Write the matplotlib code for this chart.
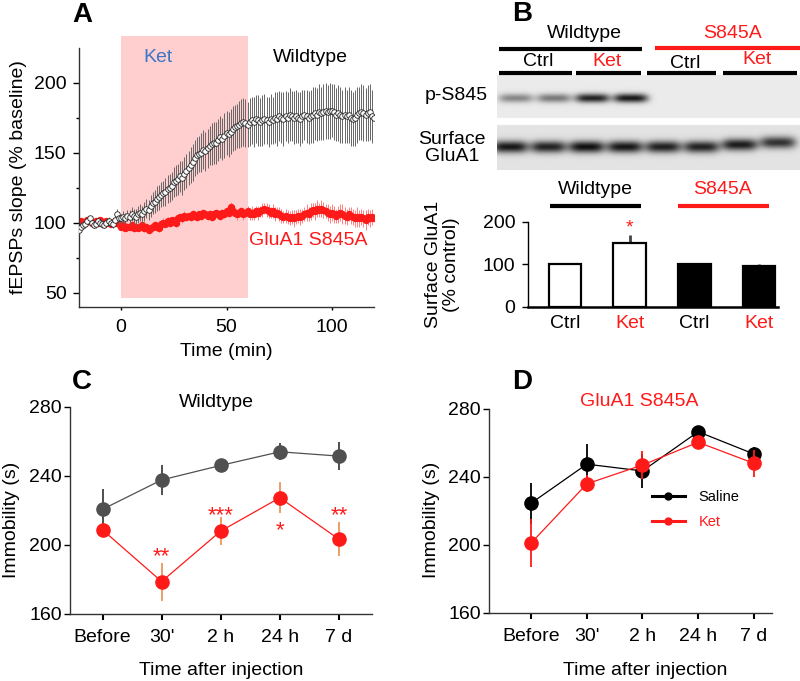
import numpy as np
import matplotlib
matplotlib.use("Agg")
import matplotlib.pyplot as plt
from matplotlib.patches import Rectangle
from matplotlib.lines import Line2D

plt.rcParams['font.family'] = ['Liberation Sans', 'DejaVu Sans']

# ---------------- DATA ----------------
# Panel A: fEPSP slope (% baseline), 1-min samples, -20..120 min
time_min = np.arange(-20, 121)
wt_slope = [95, 97, 98, 99, 101, 103, 100, 98, 99, 101, 100, 99, 98, 100, 101, 100, 99, 102, 106, 103,
            103, 104, 103, 105, 104, 106, 105, 104, 106, 107,
            106, 108, 110, 109, 112, 114, 115, 117, 118, 120,
            121, 122, 124, 125, 126, 129, 130, 131, 133, 132,
            135, 137, 139, 141, 143, 146, 148, 149, 150, 152,
            151, 153, 155, 156, 157, 157, 159, 161, 160, 162,
            164, 163, 165, 167, 168, 169, 170, 171, 172, 171,
            170, 172, 173, 172, 174, 173, 172, 173, 174, 173,
            172, 174, 173, 175, 174, 176, 175, 174, 176, 175,
            177, 176, 175, 176, 175, 174, 176, 177, 176, 175,
            176, 177, 178, 177, 179, 178, 179, 180, 179, 180,
            180, 179, 177, 178, 177, 176, 177, 176, 177, 175,
            174, 175, 177, 178, 179, 178, 177, 178, 179, 176, 175]
wt_err = [3, 3, 2, 3, 3, 2, 3, 2, 3, 3, 2, 3, 2, 3, 3, 2, 3, 3, 4, 3,
          3, 4, 4, 4, 5, 5, 5, 6, 6, 6,
          6, 7, 7, 7, 8, 8, 8, 9, 9, 9,
          9, 10, 10, 10, 10, 11, 11, 11, 11, 12,
          12, 12, 12, 13, 13, 13, 13, 13, 14, 14,
          14, 14, 14, 15, 15, 15, 15, 15, 15, 16,
          16, 16, 16, 16, 16, 16, 17, 17, 17, 17,
          16, 17, 17, 18, 17, 18, 17, 18, 18, 17,
          18, 18, 17, 18, 19, 18, 18, 19, 18, 18,
          19, 18, 19, 19, 18, 19, 19, 18, 19, 19,
          19, 20, 19, 19, 20, 19, 20, 20, 19, 20,
          19, 20, 19, 20, 20, 19, 20, 19, 20, 20,
          19, 20, 20, 19, 20, 20, 19, 20, 20, 19, 20]
mut_slope = [100, 101, 99, 100, 102, 101, 100, 99, 101, 100, 102, 100, 99, 101, 100, 99, 100, 101, 100, 99,
             97, 98, 96, 97, 97, 98, 96, 97, 96, 97,
             98, 96, 97, 95, 96, 97, 98, 97, 96, 99,
             100, 99, 101, 100, 102, 101, 100, 103, 104, 103,
             105, 104, 105, 104, 106, 105, 104, 106, 105, 107,
             106, 105, 106, 104, 106, 107, 106, 105, 107, 106,
             108, 107, 111, 108, 107, 106, 107, 108, 106, 107,
             108, 106, 107, 106, 108, 107, 108, 109, 110, 109,
             108, 107, 108, 106, 107, 106, 105, 104, 105, 104,
             103, 104, 103, 104, 105, 104, 105, 106, 107, 106,
             108, 109, 108, 110, 109, 110, 109, 108, 107, 106,
             107, 106, 105, 106, 107, 106, 105, 104, 106, 105,
             104, 103, 104, 103, 104, 103, 102, 104, 103, 104, 103]
mut_err = [2] * 20 + [2, 2, 2, 3, 2, 2, 3, 2, 2, 3,
                      2, 3, 2, 2, 3, 2, 3, 2, 3, 3,
                      3, 2, 3, 3, 2, 3, 3, 3, 2, 3,
                      3, 3, 2, 3, 3, 3, 3, 2, 3, 3,
                      3, 3, 3, 3, 3, 3, 3, 3, 3, 3,
                      3, 3, 4, 3, 3, 4, 3, 3, 4, 3,
                      4, 4, 5, 4, 4, 5, 4, 5, 4, 5,
                      5, 4, 5, 5, 4, 5, 5, 4, 5, 5,
                      5, 5, 6, 5, 5, 6, 5, 5, 6, 5,
                      6, 5, 6, 6, 5, 6, 6, 5, 6, 6,
                      6, 6, 5, 6, 6, 7, 6, 6, 5, 6,
                      6, 6, 7, 6, 6, 6, 7, 6, 6, 6, 7]

# Panel B: western blot band intensities (0..1 darkness) per lane
lanes = ["Ctrl", "Ctrl", "Ket", "Ket", "Ctrl", "Ctrl", "Ket", "Ket"]
ps845_band = [0.42, 0.48, 0.85, 0.9, 0.0, 0.0, 0.0, 0.0]
surface_band = [0.9, 0.85, 0.93, 0.9, 0.86, 0.85, 0.88, 0.78]

# Panel B: surface GluA1 quantification
bar_labels = ["Ctrl", "Ket", "Ctrl", "Ket"]
bar_values = [100, 149, 100, 96.5]
bar_errors = [1, 20, 3, 3]

# Panels C & D: immobility
time_labels = ["Before", "30'", "2 h", "24 h", "7 d"]
wt_saline = [220.6, 237.6, 246, 253.9, 251.4]
wt_saline_err = [12, 8.5, 4, 5, 8]
wt_ket = [208.7, 178.8, 208, 227.3, 203.3]
wt_ket_err = [2, 11, 8, 9, 10]
wt_stars = ["", "**", "***", "*", "**"]
wt_star_y = [0, 197, 221, 212, 221]
mut_saline = [224.5, 247.5, 243.5, 266.6, 253.5]
mut_saline_err = [12, 12, 10, 3, 4]
mut_ket = [201, 235.9, 247, 260.4, 248]
mut_ket_err = [14, 5, 8, 3, 8]

# ---------------- FIGURE ----------------
W, H = 800, 681
fig = plt.figure(figsize=(W / 100, H / 100), dpi=100)


def px_axes(l, t, r, b, **kw):
    return fig.add_axes([l / W, 1 - b / H, (r - l) / W, (b - t) / H], **kw)


RED = '#ff1a1a'
FS = 14

# ---- Panel A ----
axA = px_axes(79, 47.7, 374, 306.7)
axA.add_patch(Rectangle((0, 46), 60, 187, facecolor='#ffcfcf', edgecolor='none',
                        clip_on=False, zorder=0))
axA.errorbar(time_min, mut_slope, yerr=mut_err, fmt='o', ms=4.3, color=RED,
             mec=RED, ecolor='#ff8080', elinewidth=0.7, capsize=0, zorder=2)
axA.errorbar(time_min, wt_slope, yerr=wt_err, fmt='o', ms=4.0, mfc='white',
             mec='#222222', mew=0.6, ecolor='#666666', elinewidth=0.7, capsize=0, zorder=3)
axA.set_xlim(-20, 120)
axA.set_ylim(40, 225)
axA.set_xticks([0, 50, 100])
axA.set_yticks([50, 100, 150, 200])
axA.set_yticks([75, 125, 175], minor=True)
axA.tick_params(axis='y', which='major', length=4, width=1, pad=5, labelsize=FS)
axA.tick_params(axis='y', which='minor', length=2.5, width=1)
axA.tick_params(axis='x', length=2.5, width=1, pad=6, labelsize=FS)
for s in ['top', 'right']:
    axA.spines[s].set_visible(False)
for s in ['left', 'bottom']:
    axA.spines[s].set_linewidth(1.0)
    axA.spines[s].set_color('#333333')
axA.set_ylabel("fEPSPs slope (% baseline)", fontsize=FS)
axA.yaxis.set_label_coords(-0.175, 0.5)
axA.set_xlabel("Time (min)", fontsize=FS)
axA.xaxis.set_label_coords(0.498, -0.14)
axA.text(17.7, 218, "Ket", color='#3b76c8', fontsize=FS, ha='center', va='center')
axA.text(89.7, 218, "Wildtype", color='black', fontsize=FS, ha='center', va='center')
axA.text(88.8, 87, "GluA1 S845A", color=RED, fontsize=FS, ha='center', va='center')

# ---- Panel B blot ----
axBlot = px_axes(497, 75, 800, 170)
xs = np.linspace(-0.34, 7.57, 606)
ys = np.linspace(75, 170, 190)
X, Y = np.meshgrid(xs, ys)
img = np.ones_like(X)
img[(Y >= 75) & (Y <= 118)] = 0.92
img[(Y >= 125) & (Y <= 170)] = 0.89
dark = np.zeros_like(X)
for i, a in enumerate(ps845_band):
    dark += a * np.exp(-((X - (i + 0.15)) / 0.45) ** 4) * np.exp(-((Y - 98) / 4.5) ** 2)
for i, a in enumerate(surface_band):
    yc = 147 - 2.2 * max(0, i - 5)
    dark += a * np.exp(-((X - i) / 0.47) ** 4) * np.exp(-((Y - yc) / 6.0) ** 2)
img = img * (1 - np.clip(dark, 0, 0.95))
axBlot.imshow(img, cmap='gray', vmin=0, vmax=1, extent=(-0.34, 7.57, 170, 75),
              aspect='auto', interpolation='bilinear')
axBlot.set_axis_off()

# ---- Panel B bars ----
axB = px_axes(528, 221.7, 778, 306.7)
xb = np.arange(len(bar_values))
faces = ['white', 'white', 'black', 'black']
axB.bar(xb, bar_values, width=0.5, color=faces, edgecolor='black', linewidth=1.6, zorder=2)
axB.errorbar(xb, bar_values, yerr=[[0] * 4, bar_errors], fmt='none', ecolor='#444444',
             elinewidth=2, capsize=0, zorder=1)
axB.text(1, 185, "*", color=RED, fontsize=14, ha='center', va='center')
axB.set_xlim(-0.57, 3.29)
axB.set_ylim(0, 200)
axB.set_yticks([0, 100, 200])
axB.set_xticks(xb)
axB.set_xticklabels(bar_labels, fontsize=FS)
for lbl, c in zip(axB.get_xticklabels(), ['black', RED, 'black', RED]):
    lbl.set_color(c)
axB.tick_params(axis='x', length=0, pad=6)
axB.tick_params(axis='y', length=4, width=1, pad=5, labelsize=FS)
for s in ['top', 'right']:
    axB.spines[s].set_visible(False)
axB.spines['left'].set_linewidth(1.0)
axB.spines['bottom'].set_linewidth(1.8)
axB.set_ylabel("Surface GluA1\n(% control)", fontsize=FS, linespacing=1.1)
axB.yaxis.set_label_coords(-0.272, 0.5)


def style_behav(ax, xlim):
    ax.set_xlim(*xlim)
    ax.set_ylim(160, 280)
    ax.set_yticks([160, 200, 240, 280])
    ax.set_xticks(range(5))
    ax.set_xticklabels(time_labels, fontsize=FS)
    ax.tick_params(axis='x', length=4, width=1.5, pad=7, labelsize=FS)
    ax.tick_params(axis='y', length=4, width=1, pad=2, labelsize=FS)
    for s in ['top', 'right']:
        ax.spines[s].set_visible(False)
    for s in ['left', 'bottom']:
        ax.spines[s].set_linewidth(1.0)
        ax.spines[s].set_color('#333333')
    ax.set_ylabel("Immobility (s)", fontsize=FS)
    ax.set_xlabel("Time after injection", fontsize=FS)


# ---- Panel C ----
axC = px_axes(70, 406.7, 372, 614)
xp = np.arange(5)
axC.errorbar(xp, wt_saline, yerr=wt_saline_err, fmt='-o', color='#505050', ms=9.5,
             lw=0.9, ecolor='#404040', elinewidth=1.3, capsize=0, zorder=2)
axC.errorbar(xp, wt_ket, yerr=wt_ket_err, fmt='-o', color=RED, ms=9.5,
             lw=0.9, ecolor='#e8965a', elinewidth=1.3, capsize=0, zorder=3)
for x, s, y in zip(xp, wt_stars, wt_star_y):
    if s:
        axC.annotate(s, (x, y), xytext=(0, -9), textcoords='offset points',
                     ha='center', va='baseline', color=RED, fontsize=16)
style_behav(axC, (-0.55, 4.56))
axC.yaxis.set_label_coords(-0.165, 0.453)
axC.xaxis.set_label_coords(0.5, -0.232)
axC.text(0.486, 1.018, "Wildtype", transform=axC.transAxes, ha='center', va='center',
         fontsize=FS)

# ---- Panel D ----
axD = px_axes(489.3, 409, 771.7, 612.7)
axD.errorbar(xp, mut_saline, yerr=mut_saline_err, fmt='-o', color='black', ms=9.5,
             lw=0.9, ecolor='black', elinewidth=1.3, capsize=0, zorder=2)
axD.errorbar(xp, mut_ket, yerr=mut_ket_err, fmt='-o', color=RED, ms=9.5,
             lw=0.9, ecolor=RED, elinewidth=1.3, capsize=0, zorder=3)
style_behav(axD, (-0.75, 4.32))
axD.yaxis.set_label_coords(-0.175, 0.455)
axD.xaxis.set_label_coords(0.551, -0.243)
axD.text(0.53, 1.036, "GluA1 S845A", transform=axD.transAxes, ha='center', va='center',
         fontsize=FS, color=RED)
handles = [Line2D([], [], color='black', lw=2.2, marker='o', ms=5),
           Line2D([], [], color=RED, lw=2.2, marker='o', ms=5)]
leg = axD.legend(handles, ["Saline", "Ket"], loc='upper left', bbox_to_anchor=(0.575, 0.60),
                 frameon=False, fontsize=10.5, handlelength=2.3, handletextpad=0.9,
                 labelspacing=0.75, borderpad=0, borderaxespad=0)
leg.get_texts()[1].set_color(RED)

# ---- Overlay annotations (pixel coordinates) ----
ov = px_axes(0, 0, 800, 681)
ov.set_xlim(0, W)
ov.set_ylim(H, 0)
ov.set_axis_off()
ov.patch.set_alpha(0)
LW = 3
ov.plot([499, 642], [49, 49], color='black', lw=LW, solid_capstyle='butt')
ov.plot([655, 800], [48, 48], color=RED, lw=LW, solid_capstyle='butt')
for x0, x1 in [(499, 572), (576, 641), (647, 716), (723, 797)]:
    ov.plot([x0, x1], [73, 73], color='black', lw=LW, solid_capstyle='butt')
BF = 14
ov.text(584, 33, "Wildtype", ha='center', va='center', fontsize=BF)
ov.text(733, 33, "S845A", ha='center', va='center', fontsize=BF, color=RED)
ov.text(538, 62, "Ctrl", ha='center', va='center', fontsize=BF)
ov.text(607, 62, "Ket", ha='center', va='center', fontsize=BF, color=RED)
ov.text(685, 63, "Ctrl", ha='center', va='center', fontsize=BF)
ov.text(757, 60, "Ket", ha='center', va='center', fontsize=BF, color=RED)
ov.text(488, 96, "p-S845", ha='right', va='center', fontsize=BF)
ov.text(452, 148, "Surface\nGluA1", ha='center', va='center', fontsize=BF, linespacing=1.05)
ov.plot([550, 641], [205.7, 205.7], color='black', lw=LW, solid_capstyle='butt')
ov.plot([678, 769], [206, 206], color=RED, lw=LW, solid_capstyle='butt')
ov.text(595, 190, "Wildtype", ha='center', va='center', fontsize=BF)
ov.text(723, 190, "S845A", ha='center', va='center', fontsize=BF, color=RED)
for letter, x, y in [("A", 82, 15), ("B", 522, 14), ("C", 82, 382), ("D", 522, 382)]:
    ov.text(x, y, letter, ha='center', va='center', fontsize=20, fontweight='bold')

fig.savefig("out.png", dpi=100)
